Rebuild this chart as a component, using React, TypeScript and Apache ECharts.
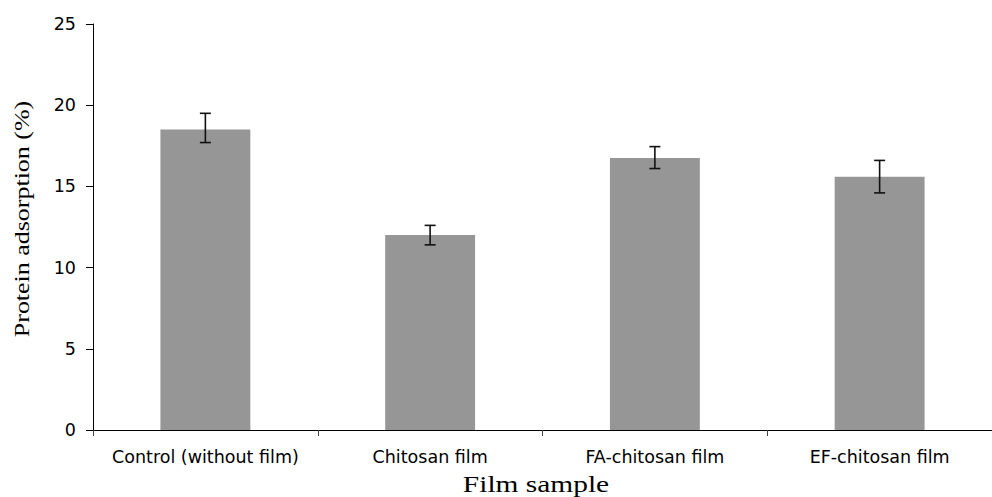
import React, { useEffect, useRef } from "react";
import * as echarts from "echarts";

const categories = ["Control (without film)", "Chitosan film", "FA-chitosan film", "EF-chitosan film"];
const adsorption = [18.5, 12.0, 16.75, 15.6];
const errLow = [17.7, 11.4, 16.1, 14.6];
const errHigh = [19.5, 12.6, 17.45, 16.6];
const yTicks = { min: 0, max: 25, interval: 5 };

export default function App() {
  const ref = useRef<HTMLDivElement>(null);
  useEffect(() => {
    const chart = echarts.init(ref.current!, null, { renderer: "svg" });
    const errData = categories.map((_, i) => [i, errLow[i], errHigh[i]]);
    chart.setOption({
      animation: false,
      backgroundColor: "#ffffff",
      grid: { left: 93, top: 24, width: 912, height: 406, containLabel: false },
      xAxis: {
        type: "category",
        data: categories,
        axisLine: { show: true, lineStyle: { color: "#000", width: 1 } },
        axisTick: { show: true, interval: 0, length: 6, lineStyle: { color: "#444" } },
        axisLabel: { interval: 0, hideOverlap: false, margin: 18, color: "#000", fontSize: 17.5, fontFamily: "DejaVu Sans" },
        splitLine: { show: false },
      },
      yAxis: {
        type: "value",
        min: yTicks.min,
        max: yTicks.max,
        interval: yTicks.interval,
        axisLine: { show: true, lineStyle: { color: "#000", width: 1 } },
        axisTick: { show: true, length: 7, lineStyle: { color: "#000" } },
        axisLabel: { margin: 17, color: "#000", fontSize: 17.5, fontFamily: "DejaVu Sans" },
        splitLine: { show: false },
      },
      series: [
        {
          type: "bar",
          data: adsorption,
          barWidth: "40%",
          itemStyle: { color: "#969696" },
        },
        {
          type: "custom",
          data: errData,
          z: 10,
          renderItem: (params: any, api: any) => {
            const x = api.value(0);
            const lo = api.coord([x, api.value(1)]);
            const hi = api.coord([x, api.value(2)]);
            const hw = 5.5;
            const style = { stroke: "#111", lineWidth: 1.6 };
            return {
              type: "group",
              children: [
                { type: "line", shape: { x1: hi[0], y1: hi[1], x2: lo[0], y2: lo[1] }, style },
                { type: "line", shape: { x1: hi[0] - hw, y1: hi[1], x2: hi[0] + hw, y2: hi[1] }, style },
                { type: "line", shape: { x1: lo[0] - hw, y1: lo[1], x2: lo[0] + hw, y2: lo[1] }, style },
              ],
            };
          },
        },
      ],
      graphic: [
        {
          type: "text",
          x: 536,
          y: 484,
          scaleX: 1.28,
          style: {
            text: "Film sample",
            fontFamily: "Liberation Serif",
            fontSize: 23,
            fill: "#000",
            textAlign: "center",
            textVerticalAlign: "middle",
          },
        },
        {
          type: "text",
          x: 22,
          y: 219,
          rotation: Math.PI / 2,
          scaleX: 1.18,
          style: {
            text: "Protein adsorption (%)",
            fontFamily: "Liberation Serif",
            fontSize: 22,
            fill: "#000",
            textAlign: "center",
            textVerticalAlign: "middle",
          },
        },
      ],
    });
    return () => chart.dispose();
  }, []);
  return <div ref={ref} style={{ position: "absolute", left: 0, top: 0, width: 992, height: 497 }} />;
}
